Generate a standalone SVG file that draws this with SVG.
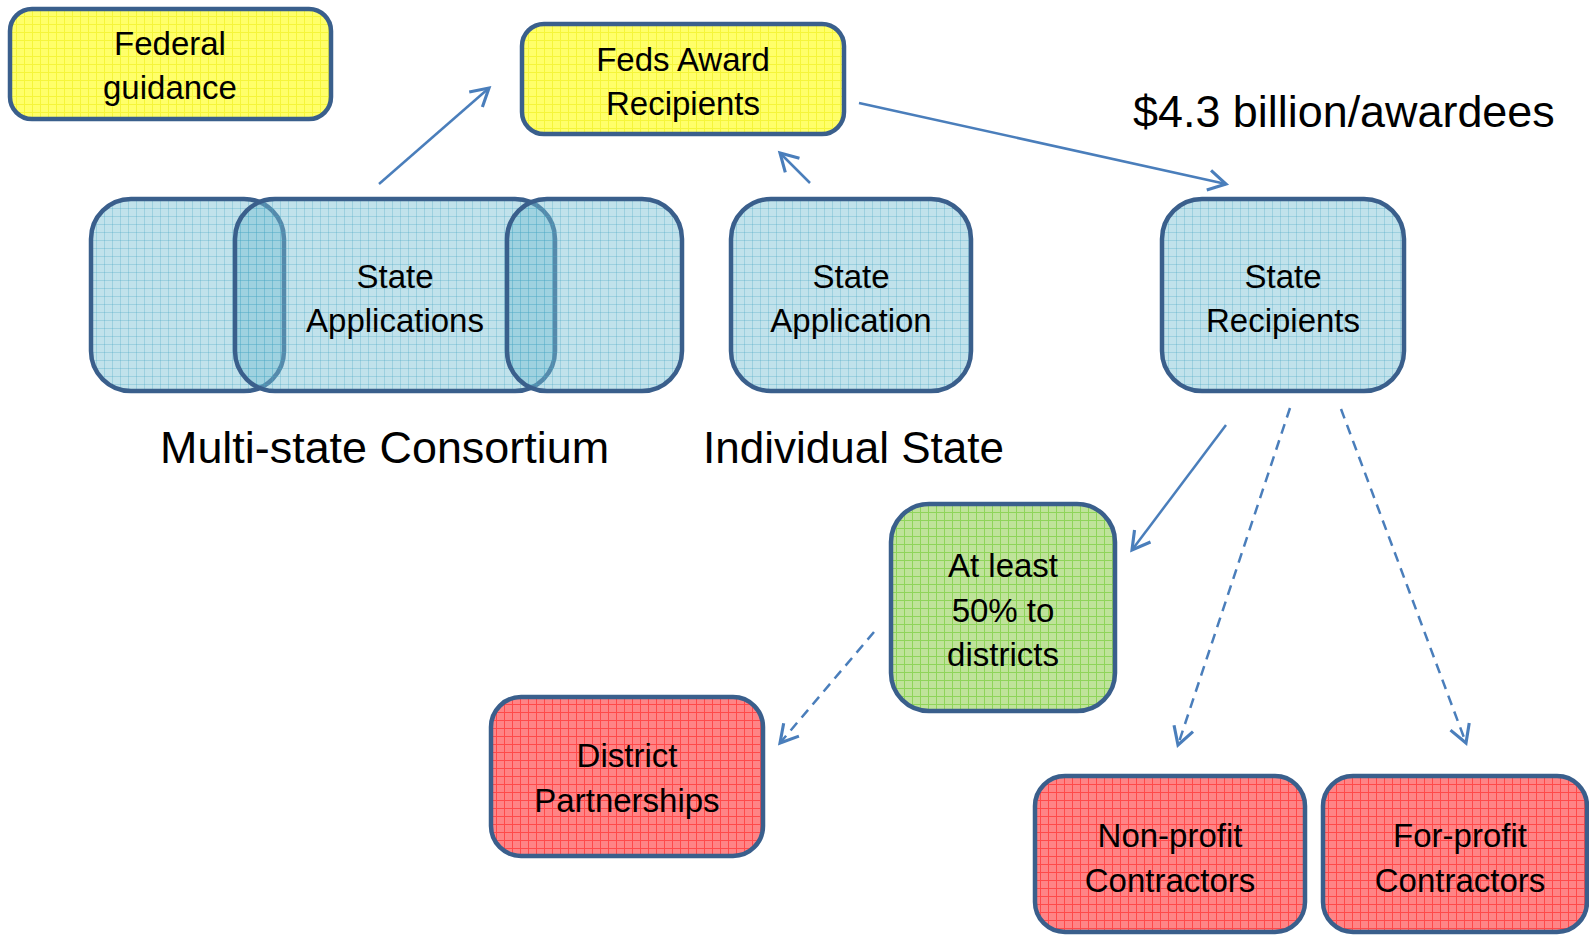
<svg xmlns="http://www.w3.org/2000/svg" width="1589" height="935" viewBox="0 0 1589 935">
<style>
.box{stroke:#3a5f8c;stroke-width:4.5}
.lbl{font-family:"Liberation Sans",Arial,sans-serif;font-size:33px;fill:#000;text-anchor:middle}
.big{font-family:"Liberation Sans",Arial,sans-serif;font-size:44px;fill:#000}
.big45{font-size:44.9px}
.conn{stroke:#4a7ebb;stroke-width:2.5;fill:none;marker-end:url(#arr)}
.dash{stroke-dasharray:10 7}
</style>
<defs>
<marker id="arr" markerUnits="userSpaceOnUse" markerWidth="30" markerHeight="30" refX="0" refY="0" viewBox="-16 -12 20 24" orient="auto">
<path d="M -14 -8 L 0 0 L -14 8" fill="none" stroke="#4a7ebb" stroke-width="2.5"/>
</marker>
<pattern id="pY" patternUnits="userSpaceOnUse" width="8" height="8">
<rect width="8" height="8" fill="#ffff6a"/>
<path d="M0 0.5H8M0.5 0V8" stroke="#f5f53a" stroke-width="1"/>
</pattern>
<pattern id="pB" patternUnits="userSpaceOnUse" width="8" height="8">
<rect width="8" height="8" fill="#76c0d4" fill-opacity="0.45"/>
<path d="M0 0.5H8M0.5 0V8" stroke="#4aa8c6" stroke-opacity="0.3" stroke-width="1"/>
</pattern>
<pattern id="pG" patternUnits="userSpaceOnUse" width="8" height="8">
<rect width="8" height="8" fill="#bfe39a"/>
<path d="M0 0.5H8M0.5 0V8" stroke="#8fd45a" stroke-width="1"/>
</pattern>
<pattern id="pR" patternUnits="userSpaceOnUse" width="8" height="8">
<rect width="8" height="8" fill="#ff8486"/>
<path d="M0 0.5H8M0.5 0V8" stroke="#ff4a4a" stroke-width="1"/>
</pattern>
</defs>
<rect width="1589" height="935" fill="#fff"/>

<g id="federal-guidance">
<rect class="box" x="10" y="9" width="321" height="110" rx="22" fill="url(#pY)"/>
<text class="lbl" x="170" y="55">Federal</text>
<text class="lbl" x="170" y="99">guidance</text>
</g>

<g id="feds-award-recipients">
<rect class="box" x="522" y="24" width="322" height="110" rx="22" fill="url(#pY)"/>
<text class="lbl" x="683" y="71">Feds Award</text>
<text class="lbl" x="683" y="115">Recipients</text>
</g>

<g id="multi-state">
<rect class="box" x="91" y="199" width="193" height="192" rx="40" fill="url(#pB)"/>
<rect class="box" x="235" y="199" width="320" height="192" rx="40" fill="url(#pB)"/>
<rect class="box" x="507" y="199" width="175" height="192" rx="40" fill="url(#pB)"/>
<text class="lbl" x="395" y="288">State</text>
<text class="lbl" x="395" y="332">Applications</text>
</g>

<g id="state-application">
<rect class="box" x="731" y="199" width="240" height="192" rx="40" fill="url(#pB)"/>
<text class="lbl" x="851" y="288">State</text>
<text class="lbl" x="851" y="332">Application</text>
</g>

<g id="state-recipients">
<rect class="box" x="1162" y="199" width="242" height="192" rx="40" fill="url(#pB)"/>
<text class="lbl" x="1283" y="288">State</text>
<text class="lbl" x="1283" y="332">Recipients</text>
</g>

<g id="labels">
<text class="big big45" x="160" y="463">Multi-state Consortium</text>
<text class="big" x="703" y="463">Individual State</text>
<text class="big big45" x="1133" y="127">$4.3 billion/awardees</text>
</g>

<g id="at-least-50">
<rect class="box" x="891" y="504" width="224" height="207" rx="38" fill="url(#pG)"/>
<text class="lbl" x="1003" y="577">At least</text>
<text class="lbl" x="1003" y="622">50% to</text>
<text class="lbl" x="1003" y="666">districts</text>
</g>

<g id="district-partnerships">
<rect class="box" x="491" y="697" width="272" height="159" rx="30" fill="url(#pR)"/>
<text class="lbl" x="627" y="767">District</text>
<text class="lbl" x="627" y="812">Partnerships</text>
</g>

<g id="non-profit">
<rect class="box" x="1035" y="776" width="270" height="156" rx="30" fill="url(#pR)"/>
<text class="lbl" x="1170" y="847">Non-profit</text>
<text class="lbl" x="1170" y="892">Contractors</text>
</g>

<g id="for-profit">
<rect class="box" x="1323" y="776" width="264" height="156" rx="30" fill="url(#pR)"/>
<text class="lbl" x="1460" y="847">For-profit</text>
<text class="lbl" x="1460" y="892">Contractors</text>
</g>

<g id="connectors">
<line class="conn" x1="379" y1="184" x2="489" y2="88"/>
<line class="conn" x1="810" y1="183" x2="780" y2="153"/>
<line class="conn" x1="859" y1="103" x2="1226" y2="184"/>
<line class="conn" x1="1226" y1="425" x2="1132" y2="550"/>
<line class="conn dash" x1="1290" y1="408" x2="1178" y2="745"/>
<line class="conn dash" x1="1341" y1="409" x2="1466" y2="743"/>
<line class="conn dash" x1="874" y1="632" x2="780" y2="743"/>
</g>
</svg>
